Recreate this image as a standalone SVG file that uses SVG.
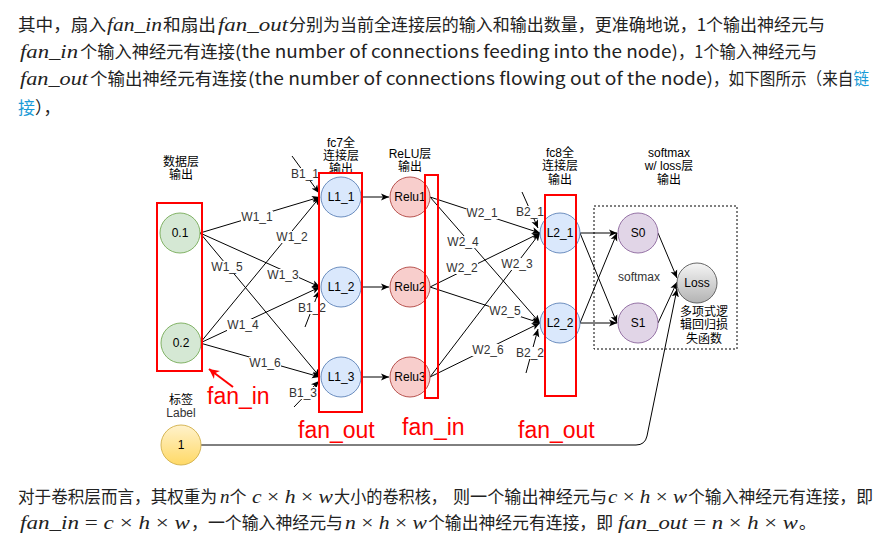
<svg xmlns="http://www.w3.org/2000/svg" width="894" height="545" viewBox="0 0 894 545">
<style>
.body{font-family:"Noto Sans CJK SC","Noto Sans",sans-serif;font-size:17px;fill:#222}
.m{font-family:"Liberation Serif",serif;font-style:italic;font-size:19px;fill:#222}
.n{font-style:normal}
.link{fill:#1a9bd7}
.dg{font-family:"Liberation Sans","Noto Sans CJK SC",sans-serif;font-size:12px;fill:#000;text-anchor:middle;dominant-baseline:central}
.el{font-family:"Liberation Sans",sans-serif;font-size:12px;fill:#333;text-anchor:middle;dominant-baseline:central}
.lb{fill:#fff}
.edge{stroke:#000;stroke-width:1;fill:none;marker-end:url(#arr)}
.red{fill:none;stroke:#f00;stroke-width:2}
.fan{font-family:"Liberation Sans",sans-serif;font-size:23px;fill:#f00}
.green{fill:#d5e8d4;stroke:#82b366}
.blue{fill:#dae8fc;stroke:#6c8ebf}
.pink{fill:#f8cecc;stroke:#b85450}
.purple{fill:#e1d5e7;stroke:#9673a6}
</style>
<defs>
<marker id="arr" markerUnits="userSpaceOnUse" markerWidth="10" markerHeight="10" refX="8" refY="4" orient="auto">
<path d="M0,0.5 L8,4 L0,7.5 L2,4 z" fill="#000"/>
</marker>
<marker id="rarr" markerUnits="userSpaceOnUse" markerWidth="14" markerHeight="14" refX="10" refY="5" orient="auto">
<path d="M0,0 L10,5 L0,10 L3,5 z" fill="#f00"/>
</marker>
<linearGradient id="gLoss" x1="0" y1="0" x2="0" y2="1"><stop offset="0" stop-color="#f5f5f5"/><stop offset="1" stop-color="#b3b3b3"/></linearGradient>
<linearGradient id="gLab" x1="0" y1="0" x2="0" y2="1"><stop offset="0" stop-color="#fff2cc"/><stop offset="1" stop-color="#ffd966"/></linearGradient>
</defs>
<rect width="894" height="545" fill="#fff"/>

<!-- top paragraph -->
<g id="top-text">
<text class="body" x="18" y="31" textLength="88" lengthAdjust="spacingAndGlyphs">其中，扇入</text>
<text class="m" x="107" y="31" textLength="55" lengthAdjust="spacingAndGlyphs">fan_in</text>
<text class="body" x="163" y="31" textLength="53" lengthAdjust="spacingAndGlyphs">和扇出</text>
<text class="m" x="218" y="31" textLength="70" lengthAdjust="spacingAndGlyphs">fan_out</text>
<text class="body" x="289" y="31" textLength="536" lengthAdjust="spacingAndGlyphs">分别为当前全连接层的输入和输出数量，更准确地说，1个输出神经元与</text>

<text class="m" x="20" y="58" textLength="58" lengthAdjust="spacingAndGlyphs">fan_in</text>
<text class="body" x="80" y="58" textLength="155" lengthAdjust="spacingAndGlyphs">个输入神经元有连接</text>
<text class="body" x="235" y="58" textLength="443" lengthAdjust="spacingAndGlyphs">(the number of connections feeding into the node)</text>
<text class="body" x="678" y="58" textLength="139" lengthAdjust="spacingAndGlyphs">，1个输入神经元与</text>

<text class="m" x="20" y="85" textLength="68" lengthAdjust="spacingAndGlyphs">fan_out</text>
<text class="body" x="90" y="85" textLength="157" lengthAdjust="spacingAndGlyphs">个输出神经元有连接</text>
<text class="body" x="248" y="85" textLength="465" lengthAdjust="spacingAndGlyphs">(the number of connections flowing out of the node)</text>
<text class="body" x="713" y="85" textLength="156" lengthAdjust="spacingAndGlyphs">，如下图所示（来自<tspan class="link">链</tspan></text>

<text class="body" x="18" y="114"><tspan class="link">接</tspan>），</text>
</g>

<!-- bottom paragraph -->
<g id="bottom-text">
<text class="body" x="18" y="503" textLength="199" lengthAdjust="spacingAndGlyphs">对于卷积层而言，其权重为</text>
<text class="body" x="220" y="503"><tspan class="m">n</tspan>个</text>
<text class="m" x="252" y="503" textLength="81" lengthAdjust="spacingAndGlyphs">c <tspan class="n">×</tspan> h <tspan class="n">×</tspan> w</text>
<text class="body" x="334" y="503" textLength="113" lengthAdjust="spacingAndGlyphs">大小的卷积核，</text>
<text class="body" x="453" y="503" textLength="154" lengthAdjust="spacingAndGlyphs">则一个输出神经元与</text>
<text class="m" x="608" y="503" textLength="79" lengthAdjust="spacingAndGlyphs">c <tspan class="n">×</tspan> h <tspan class="n">×</tspan> w</text>
<text class="body" x="688" y="503" textLength="185" lengthAdjust="spacingAndGlyphs">个输入神经元有连接，即</text>

<text class="m" x="20" y="529" textLength="170" lengthAdjust="spacingAndGlyphs">fan_in <tspan class="n">=</tspan> c <tspan class="n">×</tspan> h <tspan class="n">×</tspan> w</text>
<text class="body" x="191" y="529" textLength="152" lengthAdjust="spacingAndGlyphs">，一个输入神经元与</text>
<text class="m" x="345" y="529" textLength="82" lengthAdjust="spacingAndGlyphs">n <tspan class="n">×</tspan> h <tspan class="n">×</tspan> w</text>
<text class="body" x="428" y="529" textLength="185" lengthAdjust="spacingAndGlyphs">个输出神经元有连接，即</text>
<text class="m" x="618" y="529" textLength="180" lengthAdjust="spacingAndGlyphs">fan_out <tspan class="n">=</tspan> n <tspan class="n">×</tspan> h <tspan class="n">×</tspan> w</text>
<text class="body" x="799" y="529">。</text>
</g>

<!-- layer titles -->
<g id="titles">
<text class="dg" x="181" y="162">数据层</text>
<text class="dg" x="181" y="175">输出</text>
<text class="dg" x="341" y="143">fc7全</text>
<text class="dg" x="341" y="156">连接层</text>
<text class="dg" x="341" y="169">输出</text>
<text class="dg" x="410" y="154">ReLU层</text>
<text class="dg" x="410" y="167">输出</text>
<text class="dg" x="560" y="153">fc8全</text>
<text class="dg" x="560" y="166">连接层</text>
<text class="dg" x="560" y="180">输出</text>
<text class="dg" x="669" y="153">softmax</text>
<text class="dg" x="669" y="166">w/ loss层</text>
<text class="dg" x="669" y="180">输出</text>
<text class="dg" x="181" y="400">标签</text>
<text class="dg" x="181" y="413" style="fill:#333">Label</text>
</g>

<!-- dotted softmax box -->
<g id="softmax-box">
<rect x="594" y="206" width="143" height="143" fill="none" stroke="#000" stroke-dasharray="2,2"/>
<text class="el" x="639" y="277">softmax</text>
</g>

<!-- connectors -->
<g id="connectors">
<path class="edge" d="M200,233 L320,197"/>
<path class="edge" d="M200,343 L320,197"/>
<path class="edge" d="M200,233 L320,287"/>
<path class="edge" d="M200,343 L320,287"/>
<path class="edge" d="M200,233 L320,377"/>
<path class="edge" d="M200,343 L320,377"/>
<path class="edge" d="M292,156 L319,193"/>
<path class="edge" d="M305,327 L319,291"/>
<path class="edge" d="M294,407 L319,381"/>
<path class="edge" d="M361,197 L389,197"/>
<path class="edge" d="M361,287 L389,287"/>
<path class="edge" d="M361,377 L389,377"/>
<path class="edge" d="M430,197 L540,233"/>
<path class="edge" d="M430,197 L540,323"/>
<path class="edge" d="M430,287 L540,233"/>
<path class="edge" d="M430,287 L540,323"/>
<path class="edge" d="M430,377 L540,233"/>
<path class="edge" d="M430,377 L540,323"/>
<path class="edge" d="M522,192 L538,228"/>
<path class="edge" d="M526,373 L538,329"/>
<path class="edge" d="M580,233 L617,233"/>
<path class="edge" d="M580,233 L617,323"/>
<path class="edge" d="M580,323 L617,233"/>
<path class="edge" d="M580,323 L617,323"/>
<path class="edge" d="M658,233 L677,278"/>
<path class="edge" d="M658,323 L677,282"/>
<path class="edge" d="M201,445 L636,445 Q645,445 647,436 L677,289"/>
<path d="M233,387 L209,369" stroke="#f00" stroke-width="2" fill="none" marker-end="url(#rarr)"/>
<g>
<rect class="lb" x="241" y="211" width="32" height="12"/><text class="el" x="257" y="217">W1_1</text>
<rect class="lb" x="276" y="231" width="32" height="12"/><text class="el" x="292" y="237">W1_2</text>
<rect class="lb" x="267" y="269" width="32" height="12"/><text class="el" x="283" y="275">W1_3</text>
<rect class="lb" x="227" y="319" width="32" height="12"/><text class="el" x="243" y="325">W1_4</text>
<rect class="lb" x="211" y="261" width="32" height="12"/><text class="el" x="227" y="267">W1_5</text>
<rect class="lb" x="249" y="357" width="32" height="12"/><text class="el" x="265" y="363">W1_6</text>
<rect class="lb" x="290" y="168" width="30" height="12"/><text class="el" x="305" y="174">B1_1</text>
<rect class="lb" x="297" y="302" width="30" height="12"/><text class="el" x="312" y="308">B1_2</text>
<rect class="lb" x="288" y="387" width="30" height="12"/><text class="el" x="303" y="393">B1_3</text>
<rect class="lb" x="466" y="207" width="32" height="12"/><text class="el" x="482" y="213">W2_1</text>
<rect class="lb" x="446" y="262" width="32" height="12"/><text class="el" x="462" y="268">W2_2</text>
<rect class="lb" x="501" y="258" width="32" height="12"/><text class="el" x="517" y="264">W2_3</text>
<rect class="lb" x="447" y="236" width="32" height="12"/><text class="el" x="463" y="242">W2_4</text>
<rect class="lb" x="489" y="305" width="32" height="12"/><text class="el" x="505" y="311">W2_5</text>
<rect class="lb" x="472" y="344" width="32" height="12"/><text class="el" x="488" y="350">W2_6</text>
<rect class="lb" x="515" y="206" width="30" height="12"/><text class="el" x="530" y="212">B2_1</text>
<rect class="lb" x="515" y="347" width="30" height="12"/><text class="el" x="530" y="353">B2_2</text>
</g>
</g>

<!-- nodes -->
<g id="n01"><circle class="green" cx="180" cy="233" r="20"/><text class="dg" x="180" y="233">0.1</text></g>
<g id="n02"><circle class="green" cx="181" cy="343" r="20"/><text class="dg" x="181" y="343">0.2</text></g>
<g id="label"><circle cx="181" cy="445" r="20" fill="url(#gLab)" stroke="#d6b656"/><text class="dg" x="181" y="445">1</text></g>
<g id="L1_1"><circle class="blue" cx="341" cy="197" r="20"/><text class="dg" x="341" y="197">L1_1</text></g>
<g id="L1_2"><circle class="blue" cx="341" cy="287" r="20"/><text class="dg" x="341" y="287">L1_2</text></g>
<g id="L1_3"><circle class="blue" cx="341" cy="377" r="20"/><text class="dg" x="341" y="377">L1_3</text></g>
<g id="Relu1"><circle class="pink" cx="410" cy="197" r="20"/><text class="dg" x="410" y="197">Relu1</text></g>
<g id="Relu2"><circle class="pink" cx="410" cy="287" r="20"/><text class="dg" x="410" y="287">Relu2</text></g>
<g id="Relu3"><circle class="pink" cx="410" cy="377" r="20"/><text class="dg" x="410" y="377">Relu3</text></g>
<g id="L2_1"><circle class="blue" cx="560" cy="233" r="20"/><text class="dg" x="560" y="233">L2_1</text></g>
<g id="L2_2"><circle class="blue" cx="560" cy="323" r="20"/><text class="dg" x="560" y="323">L2_2</text></g>
<g id="S0"><circle class="purple" cx="638" cy="233" r="20"/><text class="dg" x="638" y="233">S0</text></g>
<g id="S1"><circle class="purple" cx="638" cy="323" r="20"/><text class="dg" x="638" y="323">S1</text></g>
<g id="Loss"><circle cx="697" cy="283" r="20" fill="url(#gLoss)" stroke="#666"/><text class="dg" x="697" y="283">Loss</text>
<text class="dg" x="704" y="312">多项式逻</text>
<text class="dg" x="704" y="325">辑回归损</text>
<text class="dg" x="704" y="339">失函数</text></g>

<!-- red highlight boxes -->
<g id="highlights">
<rect class="red" x="157" y="203" width="45" height="168"/>
<rect class="red" x="319" y="173" width="43" height="239"/>
<rect class="red" x="425" y="175" width="13" height="223"/>
<rect class="red" x="545" y="195" width="31" height="201"/>
<text class="fan" x="207" y="404">fan_in</text>
<text class="fan" x="298" y="438">fan_out</text>
<text class="fan" x="402" y="435">fan_in</text>
<text class="fan" x="518" y="438">fan_out</text>
</g>
</svg>
